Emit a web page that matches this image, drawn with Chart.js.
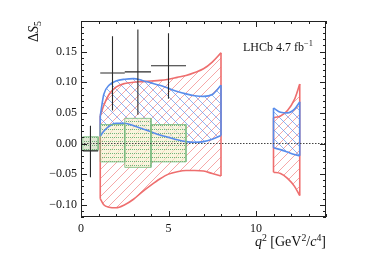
<!DOCTYPE html>
<html>
<head>
<meta charset="utf-8">
<script src="https://cdn.jsdelivr.net/npm/chart.js@4"></script>
<style>
  body { margin: 0; background: #fff; }
</style>
</head>
<body>
<canvas id="deltaS5" width="374" height="264"></canvas>
<script>
// LHCb measurement bins
const BIN_LO = [0.1, 1.1, 2.5, 4.0];
const BIN_HI = [0.98, 2.5, 4.0, 6.0];
const BIN_MID = [0.54, 1.8, 3.25, 5.0];
const S5_VAL = [-0.012, 0.115, 0.117, 0.127];
const S5_ERR_UP = [0.041, 0.060, 0.069, 0.053];
const S5_ERR_DN = [0.043, 0.061, 0.070, 0.054];

// SM boxes
const SM_UP = [0.011, 0.031, 0.041, 0.031];
const SM_DN = [-0.011, -0.030, -0.039, -0.030];

// theory bands, low q2 region
const Q_LOW = [1.1, 1.3, 1.6, 2, 2.5, 3, 3.5, 4, 4.5, 5, 5.5, 6, 6.5, 7, 7.5, 8];
const RED_UP_LOW = [0.045, 0.062, 0.080, 0.092, 0.098, 0.100, 0.101, 0.102, 0.103, 0.105, 0.108, 0.111, 0.116, 0.122, 0.133, 0.148];
const RED_DN_LOW = [-0.090, -0.100, -0.104, -0.105, -0.100, -0.091, -0.079, -0.068, -0.058, -0.050, -0.046, -0.044, -0.044, -0.045, -0.049, -0.053];
const BLUE_UP_LOW = [0.045, 0.080, 0.095, 0.102, 0.105, 0.106, 0.103, 0.099, 0.095, 0.090, 0.085, 0.081, 0.078, 0.077, 0.080, 0.095];
const BLUE_DN_LOW = [0.012, 0.020, 0.028, 0.033, 0.033, 0.029, 0.024, 0.019, 0.014, 0.010, 0.006, 0.003, 0.002, 0.003, 0.007, 0.013];

// theory bands, high q2 region
const Q_HIGH = [11, 11.4, 11.8, 12.2, 12.5];
const RED_UP_HIGH = [0.042, 0.045, 0.054, 0.072, 0.097];
const RED_DN_HIGH = [-0.047, -0.049, -0.057, -0.070, -0.085];
const BLUE_UP_HIGH = [0.058, 0.051, 0.050, 0.056, 0.068];
const BLUE_DN_HIGH = [-0.007, -0.010, -0.014, -0.018, -0.020];

// axis ticks
const X_TICKS = [0, 5, 10];
const Y_TICKS = [-0.10, -0.05, 0.00, 0.05, 0.10, 0.15];

const RED = 'rgb(238,110,110)';
const BLUE = 'rgb(88,140,235)';
const GREEN = 'rgba(120,185,125,0.8)';
const SERIF = '"Liberation Serif", "DejaVu Serif", serif';

const canvas = document.getElementById('deltaS5');
const ctx = canvas.getContext('2d');

const hatch = (color, dir, size) => {
  const c = document.createElement('canvas');
  c.width = c.height = size;
  const g = c.getContext('2d');
  g.strokeStyle = color;
  g.lineWidth = 1;
  g.beginPath();
  if (dir > 0) {
    g.moveTo(0, size); g.lineTo(size, 0);
    g.moveTo(-1, 1); g.lineTo(1, -1);
    g.moveTo(size - 1, size + 1); g.lineTo(size + 1, size - 1);
  } else {
    g.moveTo(0, 0); g.lineTo(size, size);
    g.moveTo(-1, size - 1); g.lineTo(1, size + 1);
    g.moveTo(size - 1, -1); g.lineTo(size + 1, 1);
  }
  g.stroke();
  return ctx.createPattern(c, 'repeat');
};

const dots = (bg, dot) => {
  const c = document.createElement('canvas');
  c.width = 4; c.height = 4;
  const g = c.getContext('2d');
  g.fillStyle = bg;
  g.fillRect(0, 0, 4, 4);
  g.fillStyle = dot;
  g.fillRect(0, 1, 1, 1);
  g.fillRect(2, 1, 1, 1);
  return ctx.createPattern(c, 'repeat');
};

const redHatch = hatch('rgba(240,110,110,0.6)', 1, 9);
const blueHatch = hatch('rgba(90,140,235,0.65)', -1, 9);
const boxFill = dots('rgba(246,240,208,0.72)', 'rgba(90,170,105,0.85)');
const boxFillDark = dots('rgba(218,228,204,0.85)', 'rgba(90,160,105,0.85)');

const pts = (xs, ys) => xs.map((x, i) => ({ x, y: ys[i] }));

const bandLine = (xs, ys, color, order, fill) => ({
  data: pts(xs, ys),
  borderColor: color,
  borderWidth: 1.6,
  backgroundColor: fill ? fill : 'transparent',
  fill: fill ? '+1' : false,
  cubicInterpolationMode: 'monotone',
  pointRadius: 0,
  order,
});

const edges = (bands) => {
  const out = [];
  bands.forEach(([xs, up, dn]) => {
    const n = xs.length - 1;
    out.push({ x: xs[0], y: dn[0] }, { x: xs[0], y: up[0] }, { x: xs[0], y: null });
    out.push({ x: xs[n], y: dn[n] }, { x: xs[n], y: up[n] }, { x: xs[n], y: null });
  });
  return out;
};

const errData = [];
BIN_MID.forEach((m, i) => {
  errData.push({ x: BIN_LO[i], y: S5_VAL[i] }, { x: BIN_HI[i], y: S5_VAL[i] }, { x: BIN_HI[i], y: null });
  errData.push({ x: m, y: S5_VAL[i] - S5_ERR_DN[i] }, { x: m, y: S5_VAL[i] + S5_ERR_UP[i] }, { x: m, y: null });
});

const boxSets = BIN_LO.map((lo, i) => ({
  data: [
    { x: lo, y: SM_DN[i] }, { x: lo, y: SM_UP[i] },
    { x: BIN_HI[i], y: SM_UP[i] }, { x: BIN_HI[i], y: SM_DN[i] },
  ],
  borderColor: GREEN,
  borderWidth: 1,
  backgroundColor: i === 0 ? boxFillDark : boxFill,
  fill: { value: SM_DN[i] },
  pointRadius: 0,
  order: 2,
}));

const boxBottoms = [];
BIN_LO.forEach((lo, i) => {
  boxBottoms.push({ x: lo, y: SM_DN[i] }, { x: BIN_HI[i], y: SM_DN[i] }, { x: BIN_HI[i], y: null });
});

const datasets = [
  { data: [{ x: 0, y: 0 }, { x: 14, y: 0 }], borderColor: '#444', borderWidth: 1, borderDash: [1.5, 1.5], pointRadius: 0, order: 0 },
  { data: errData, borderColor: '#2a2a2a', borderWidth: 1.1, pointRadius: 0, order: 1 },
  ...boxSets,
  { data: boxBottoms, borderColor: GREEN, borderWidth: 1, pointRadius: 0, order: 2 },
  bandLine(Q_LOW, BLUE_UP_LOW, BLUE, 3, blueHatch),
  bandLine(Q_LOW, BLUE_DN_LOW, BLUE, 3),
  bandLine(Q_HIGH, BLUE_UP_HIGH, BLUE, 3, blueHatch),
  bandLine(Q_HIGH, BLUE_DN_HIGH, BLUE, 3),
  { data: edges([[Q_LOW, BLUE_UP_LOW, BLUE_DN_LOW], [Q_HIGH, BLUE_UP_HIGH, BLUE_DN_HIGH]]), borderColor: BLUE, borderWidth: 1.6, pointRadius: 0, order: 3 },
  bandLine(Q_LOW, RED_UP_LOW, RED, 4, redHatch),
  bandLine(Q_LOW, RED_DN_LOW, RED, 4),
  bandLine(Q_HIGH, RED_UP_HIGH, RED, 4, redHatch),
  bandLine(Q_HIGH, RED_DN_HIGH, RED, 4),
  { data: edges([[Q_LOW, RED_UP_LOW, RED_DN_LOW], [Q_HIGH, RED_UP_HIGH, RED_DN_HIGH]]), borderColor: RED, borderWidth: 1.6, pointRadius: 0, order: 4 },
];

// text with italics / super- and subscripts
const drawRuns = (c, runs, size) => {
  let x = 0;
  runs.forEach((r) => {
    const small = r.sup || r.sub;
    const fs = small ? size * 0.7 : size;
    c.font = `${r.it ? 'italic ' : ''}${fs}px ${SERIF}`;
    const dy = r.sup ? -size * 0.38 : r.sub ? size * 0.22 : 0;
    c.fillText(r.t, x, dy);
    x += c.measureText(r.t).width;
  });
  return x;
};
const runsWidth = (c, runs, size) => {
  let w = 0;
  runs.forEach((r) => {
    const fs = r.sup || r.sub ? size * 0.7 : size;
    c.font = `${r.it ? 'italic ' : ''}${fs}px ${SERIF}`;
    w += c.measureText(r.t).width;
  });
  return w;
};

const X_TITLE = [{ t: 'q', it: true }, { t: '2', sup: true }, { t: ' [GeV' }, { t: '2', sup: true }, { t: '/' }, { t: 'c', it: true }, { t: '4', sup: true }, { t: ']' }];
const Y_TITLE = [{ t: 'Δ' }, { t: 'S', it: true }, { t: '5', sub: true }];
const LABEL = [{ t: 'LHCb 4.7 fb' }, { t: '−1', sup: true }];

const framePlugin = {
  id: 'frame',
  afterDraw(chart) {
    const { ctx: c, chartArea: a, scales } = chart;
    const xs = scales.x, ys = scales.y;
    c.save();
    c.strokeStyle = '#222';
    c.lineWidth = 1;
    c.strokeRect(a.left + 0.5, a.top + 0.5, a.right - a.left - 1, a.bottom - a.top - 1);
    c.beginPath();
    for (let v = 0; v <= 14; v += 1) {
      const px = Math.round(xs.getPixelForValue(v)) + 0.5;
      const len = v % 5 === 0 ? 6 : 3;
      c.moveTo(px, a.bottom); c.lineTo(px, a.bottom - len);
      c.moveTo(px, a.top); c.lineTo(px, a.top + len);
    }
    for (let k = -12; k <= 20; k += 1) {
      const py = Math.round(ys.getPixelForValue(k / 100)) + 0.5;
      const len = k % 5 === 0 ? 6 : 3;
      c.moveTo(a.left, py); c.lineTo(a.left + len, py);
      c.moveTo(a.right, py); c.lineTo(a.right - len, py);
    }
    c.stroke();

    c.fillStyle = '#111';
    c.textBaseline = 'alphabetic';
    // x title, right aligned
    const w = runsWidth(c, X_TITLE, 14);
    c.save();
    c.translate(a.right - w, 246);
    drawRuns(c, X_TITLE, 14);
    c.restore();
    // y title, rotated, top aligned
    const h = runsWidth(c, Y_TITLE, 14);
    c.save();
    c.translate(38, a.top + h);
    c.rotate(-Math.PI / 2);
    drawRuns(c, Y_TITLE, 14);
    c.restore();
    // label
    c.save();
    c.translate(243, 51);
    drawRuns(c, LABEL, 12);
    c.restore();
    c.restore();
  },
};

new Chart(canvas, {
  type: 'line',
  data: { datasets },
  options: {
    responsive: false,
    animation: false,
    layout: { padding: { top: 21, right: 48, left: 0, bottom: 0 } },
    plugins: {
      legend: { display: false },
      tooltip: { enabled: false },
      filler: { drawTime: 'beforeDatasetsDraw' },
    },
    scales: {
      x: {
        type: 'linear',
        min: 0,
        max: 14,
        grid: { display: false, drawTicks: false },
        border: { display: false },
        afterBuildTicks: (s) => { s.ticks = X_TICKS.map((value) => ({ value })); },
        afterFit: (s) => { s.height = 47; },
        ticks: {
          color: '#111',
          padding: 5,
          maxRotation: 0,
          font: { family: SERIF, size: 12 },
          callback: (v) => String(v),
        },
      },
      y: {
        type: 'linear',
        min: -0.12,
        max: 0.2,
        grid: { display: false, drawTicks: false },
        border: { display: false },
        afterBuildTicks: (s) => { s.ticks = Y_TICKS.map((value) => ({ value })); },
        afterFit: (s) => { s.width = 81; },
        ticks: {
          color: '#111',
          padding: 4,
          font: { family: SERIF, size: 12 },
          callback: (v) => (v < -1e-9 ? '−' : '') + Math.abs(v).toFixed(2),
        },
      },
    },
  },
  plugins: [framePlugin],
});
</script>
</body>
</html>
